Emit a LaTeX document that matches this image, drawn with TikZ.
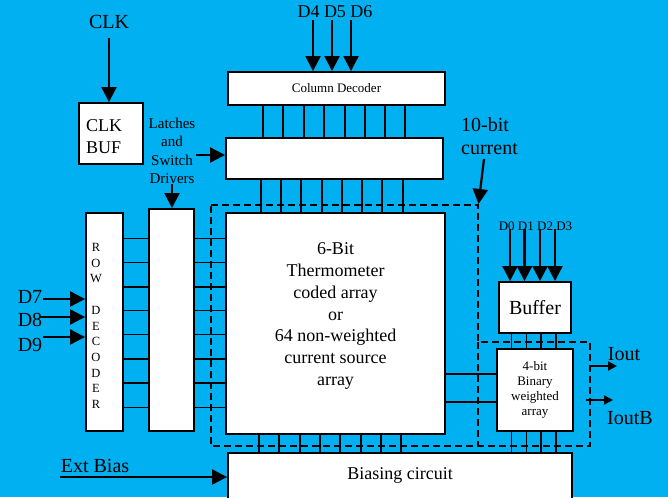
\documentclass[tikz,border=0pt]{standalone}
\usepackage{fontspec}
\setmainfont{Liberation Serif}
\usetikzlibrary{arrows.meta}
\definecolor{bgblue}{RGB}{0,176,240}
\begin{document}
\begin{tikzpicture}[x=1pt,y=-1pt,
  box/.style={draw=black, fill=white, line width=1.9pt, inner sep=0pt},
  wire/.style={draw=black, line width=1.8pt},
  arr/.style={draw=black, line width=2.2pt, -{Triangle[length=15pt,width=15pt]}},
  sarr/.style={draw=black, line width=2pt, -{Triangle[length=9pt,width=9pt]}},
  dashbound/.style={draw=black, line width=1.7pt, dash pattern=on 7pt off 4pt},
  lbl/.style={inner sep=0pt, text=black},
  fbig/.style={font=\fontsize{20}{23}\selectfont},
  fmid/.style={font=\fontsize{18}{21.7}\selectfont},
  fsml/.style={font=\fontsize{15}{18.5}\selectfont},
  ftiny/.style={font=\fontsize{13}{15}\selectfont},
]
\fill[bgblue] (0,0) rectangle (668,497);
\useasboundingbox (0,0) rectangle (668,497);
\clip (0,0) rectangle (668,497);

% dashed boundary of the current-source region
\draw[dashbound] (211,205) -- (478,205) -- (478,342) -- (590,342) -- (590,446) -- (211,446) -- cycle;
\draw[dashbound] (478,342) -- (478,446);

% boxes
\node[box, minimum width=64, minimum height=61] (clkbuf) at (111,133.5) {};
\node[lbl, fmid, align=left, anchor=west] (clkbuftext) at (86,136.5) {CLK\\BUF};
\node[box, minimum width=217, minimum height=33, ftiny] (coldec) at (336.5,88.5) {Column Decoder};
\node[box, minimum width=217, minimum height=41] (latch) at (334.5,158.5) {};
\node[box, minimum width=37, minimum height=218] (rowdec) at (104.5,322) {};
\node[box, minimum width=45, minimum height=222] (swdrv) at (171.5,320) {};
\node[box, minimum width=219, minimum height=221] (therm) at (335.5,323.5) {};
\node[box, minimum width=72, minimum height=51, fbig] (buffer) at (535,307.5) {Buffer};
\node[box, minimum width=76, minimum height=82, align=center, font=\fontsize{13}{15}\selectfont] (binary) at (535,390) {4-bit\\Binary\\weighted\\array};
\node[box, minimum width=344, minimum height=60] (bias) at (400,483) {};

% texts
\node[lbl, fmid, align=center] (thermtext) at (335.5,316) {6-Bit\\Thermometer\\coded array\\or\\64 non-weighted\\current source\\array};
\node[lbl, align=center, font=\fontsize{12.5}{15.7}\selectfont] (rowtext) at (96,326) {R\\O\\W\\[15.7pt]D\\E\\C\\O\\D\\E\\R};
\node[lbl, fmid] (biastext) at (400,475) {Biasing circuit};
\node[lbl, fbig] (clk) at (109,22) {CLK};
\node[lbl, fsml, align=center] (ltxt) at (172,151) {Latches\\and\\Switch\\Drivers};
\node[lbl, fmid] (dtop) at (335,12) {D4 D5 D6};
\node[lbl, fbig, align=left, anchor=west] (tenbit) at (461,136) {10-bit\\current};
\node[lbl, ftiny] (dbot) at (535.5,226) {D0 D1 D2 D3};
\node[lbl, fbig] (d7) at (30,297) {D7};
\node[lbl, fbig] (d8) at (30,320) {D8};
\node[lbl, fbig] (d9) at (30,345) {D9};
\node[lbl, fbig] (iout) at (624,354) {Iout};
\node[lbl, fbig] (ioutb) at (630,418) {IoutB};
\node[lbl, fbig] (ext) at (95,466) {Ext Bias};

% arrows
\draw[arr] ([yshift=-9pt]clk.south) -- (clkbuf.north -| clk.south);
\draw[arr] (ltxt.east |- 0,155) -- (latch.west |- 0,155);
\draw[arr] (ltxt.south) -- (swdrv.north -| ltxt.south);
\foreach \x/\n in {313/a,332/b,351/c} {
  \coordinate (dt\n) at (\x,20);
  \draw[arr] (dt\n) -- (coldec.north -| dt\n);
}
\foreach \x/\n in {510/a,524.5/b,540/c,555/d} {
  \coordinate (db\n) at (\x,229);
  \draw[arr] (db\n) -- (buffer.north -| db\n);
}
\coordinate (d7s) at (43,299);
\coordinate (d8s) at (40,317);
\coordinate (d9s) at (43,337);
\draw[arr] (d7s) -- (d7s -| rowdec.west);
\draw[arr] (d8s) -- (d8s -| rowdec.west);
\draw[arr] (d9s) -- (d9s -| rowdec.west);
\coordinate (tbs) at (484,159);
\coordinate (tbe) at (478.5,204);
\draw[arr] (tbs) -- (tbe);
\coordinate (exts) at (60,477);
\draw[arr] (exts) -- (exts -| bias.west);
\coordinate (iouts) at (589,366);
\coordinate (ioute) at (617,366);
\draw[sarr] (iouts) -- (ioute);
\coordinate (ioutbs) at (586,400);
\coordinate (ioutbe) at (613,400);
\draw[sarr] (ioutbs) -- (ioutbe);

% wires
\foreach \x in {263,283,304,324,345,365,385,405}
  \draw[wire] (\x,0 |- coldec.south) -- (\x,0 |- latch.north);
\foreach \x in {261,281,301,322,342,362,382,403}
  \draw[wire] (\x,0 |- latch.south) -- (\x,0 |- therm.north);
\foreach \x in {259,279,300,320,340,361,381,401}
  \draw[wire] (\x,0 |- therm.south) -- (\x,0 |- bias.north);
\foreach \y in {238.5,262.5,287,310.5,334.5,359,383,407.5} {
  \draw[wire] (rowdec.east |- 0,\y) -- (swdrv.west |- 0,\y);
  \draw[wire] (swdrv.east |- 0,\y) -- (therm.west |- 0,\y);
}
\foreach \y in {374,402}
  \draw[wire] (therm.east |- 0,\y) -- (binary.west |- 0,\y);
\foreach \x in {511.5,526.5,541,556} {
  \draw[wire] (\x,0 |- buffer.south) -- (\x,0 |- binary.north);
  \draw[wire] (\x,0 |- binary.south) -- (\x,0 |- bias.north);
}
\end{tikzpicture}
\end{document}
